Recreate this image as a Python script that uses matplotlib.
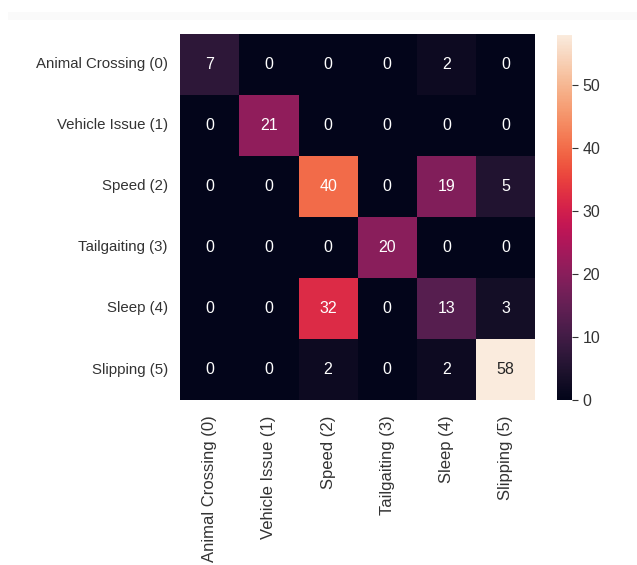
import numpy as np
import matplotlib
matplotlib.use("Agg")
import matplotlib.pyplot as plt
from matplotlib.patches import Rectangle
import seaborn as sns

classes = ["Animal Crossing (0)", "Vehicle Issue (1)", "Speed (2)",
           "Tailgaiting (3)", "Sleep (4)", "Slipping (5)"]

# rows: true class, cols: predicted class
conf = [
    [7, 0, 0, 0, 2, 0],
    [0, 21, 0, 0, 0, 0],
    [0, 0, 40, 0, 19, 5],
    [0, 0, 0, 20, 0, 0],
    [0, 0, 32, 0, 13, 3],
    [0, 0, 2, 0, 2, 58],
]
cbar_ticks = [0, 10, 20, 30, 40, 50]

plt.rcParams["font.family"] = ["Liberation Sans", "DejaVu Sans"]

fig = plt.figure(figsize=(6.37, 5.65), dpi=100)
# faint grey strip along the top
fig.patches.append(Rectangle((0.012, 0.965), 0.988, 0.014, transform=fig.transFigure,
                             facecolor="#fafafa", edgecolor="none"))
ax = fig.add_axes([0.283, 0.292, 0.557, 0.648])
cax = fig.add_axes([0.8744, 0.292, 0.0235, 0.646])

sns.heatmap(np.array(conf), annot=True, fmt="d", cmap="rocket",
            xticklabels=classes, yticklabels=classes,
            ax=ax, cbar_ax=cax, annot_kws={"fontsize": 11.5})

ax.tick_params(axis="x", length=0, colors="#333333", pad=11)
ax.tick_params(axis="y", length=0, colors="#333333", pad=9)
plt.setp(ax.get_xticklabels(), rotation=90, fontsize=12)
plt.setp(ax.get_yticklabels(), rotation=0, fontsize=10.8)

cax.tick_params(labelsize=11.5, colors="#333333", length=4)
cax.set_yticks(cbar_ticks)
for s in cax.spines.values():
    s.set_visible(False)

fig.savefig("out.png", dpi=100)
